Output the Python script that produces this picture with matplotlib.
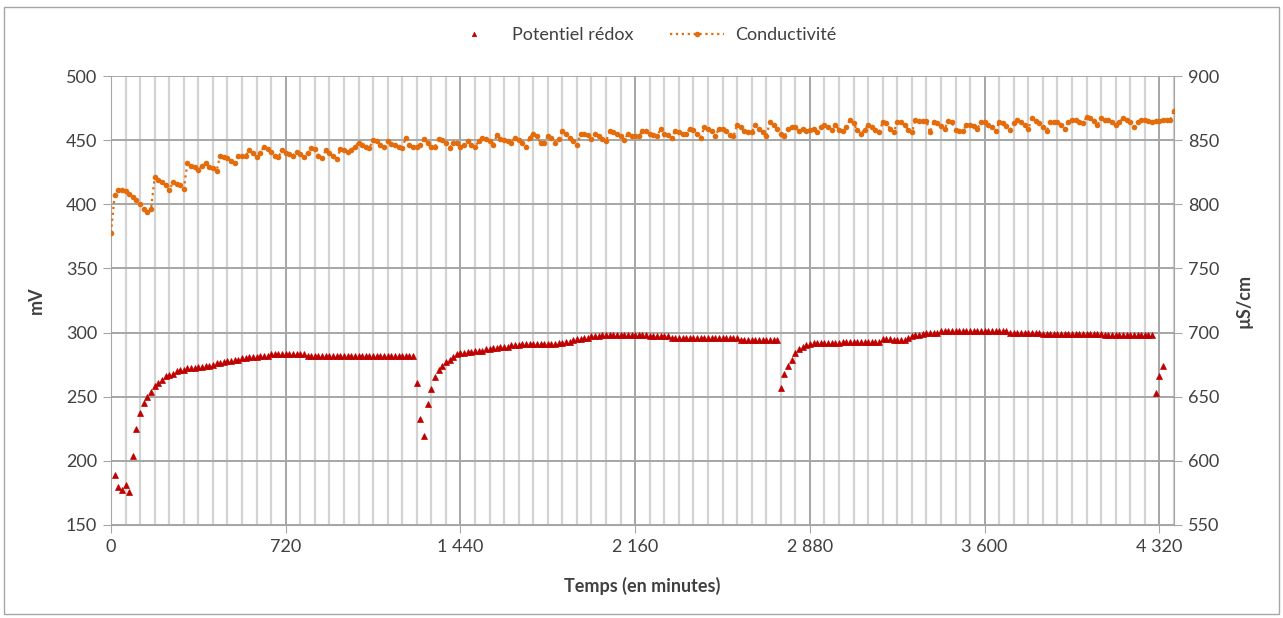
import numpy as np
import matplotlib.pyplot as plt
from matplotlib.patches import Rectangle
from matplotlib.ticker import MultipleLocator

plt.rcParams['font.family'] = ['Lato', 'DejaVu Sans']

# sampling times (minutes), one reading every 15 minutes
temps = np.arange(0, 4381, 15)

# Potentiel rédox (mV), left axis
redox = [
    np.nan, 189, 180, 177, 181, 176, 204, 225, 237, 245, 250, 254,
    258, 261, 263, 266, 267, 268, 270, 271, 271, 272, 272, 272,
    273, 273, 274, 274, 275, 276, 276, 277, 278, 278, 279, 279,
    280, 280, 281, 281, 281, 282, 282, 282, 283, 283, 283, 283,
    283, 283, 283, 283, 283, 283, 282, 282, 282, 282, 282, 282,
    282, 282, 282, 282, 282, 282, 282, 282, 282, 282, 282, 282,
    282, 282, 282, 282, 282, 282, 282, 282, 282, 282, 282, 282,
    261, 233, 219, 244, 256, 265, 271, 274, 277, 279, 281, 283,
    284, 284, 285, 285, 286, 286, 286, 287, 287, 288, 288, 289,
    289, 289, 290, 290, 290, 291, 291, 291, 291, 291, 291, 291,
    291, 291, 291, 292, 292, 293, 293, 294, 295, 295, 296, 296,
    297, 297, 297, 298, 298, 298, 298, 298, 298, 298, 298, 298,
    298, 298, 298, 298, 297, 297, 297, 297, 297, 297, 296, 296,
    296, 296, 296, 296, 296, 296, 296, 296, 296, 296, 296, 296,
    296, 296, 296, 296, 296, 294, 294, 294, 294, 294, 294, 294,
    294, 294, 294, 294, 257, 268, 274, 279, 284, 287, 289, 290,
    291, 292, 292, 292, 292, 292, 292, 292, 292, 293, 293, 293,
    293, 293, 293, 293, 293, 293, 293, 293, 295, 295, 295, 294,
    294, 294, 294, 296, 297, 298, 298, 299, 300, 300, 300, 300,
    301, 301, 301, 301, 301, 301, 301, 301, 301, 301, 301, 301,
    301, 301, 301, 301, 301, 301, 301, 300, 300, 300, 300, 300,
    300, 300, 300, 300, 299, 299, 299, 299, 299, 299, 299, 299,
    299, 299, 299, 299, 299, 299, 299, 299, 299, 298, 298, 298,
    298, 298, 298, 298, 298, 298, 298, 298, 298, 298, 298, 253,
    266, 274, np.nan, np.nan, np.nan,
]

# Conductivité (µS/cm), right axis
conductivite = [
    778, 807, 811, 811, 810, 808, 806, 803, 800, 796, 794, 796,
    821, 819, 817, 815, 811, 817, 816, 815, 812, 832, 830, 829,
    827, 830, 832, 829, 828, 826, 838, 837, 836, 834, 832, 838,
    838, 838, 842, 840, 837, 840, 845, 843, 841, 838, 837, 842,
    840, 839, 838, 841, 839, 837, 840, 844, 843, 838, 836, 842,
    840, 838, 835, 843, 842, 841, 842, 845, 848, 846, 845, 844,
    850, 849, 846, 845, 849, 847, 846, 845, 844, 852, 846, 845,
    845, 846, 851, 848, 845, 845, 851, 850, 848, 844, 848, 848,
    845, 846, 849, 846, 845, 849, 852, 851, 849, 846, 854, 851,
    850, 849, 848, 852, 850, 848, 845, 852, 855, 853, 848, 848,
    853, 852, 848, 851, 857, 855, 852, 849, 846, 855, 855, 854,
    851, 855, 853, 851, 849, 857, 856, 855, 853, 850, 855, 853,
    853, 853, 857, 857, 855, 854, 853, 859, 855, 854, 852, 857,
    856, 855, 855, 859, 858, 855, 852, 860, 859, 857, 853, 859,
    859, 857, 854, 853, 862, 860, 857, 856, 856, 862, 859, 856,
    853, 864, 862, 859, 855, 853, 859, 860, 860, 857, 859, 857,
    858, 859, 856, 860, 862, 860, 858, 862, 858, 857, 860, 866,
    863, 858, 855, 858, 862, 860, 858, 856, 864, 863, 859, 856,
    864, 864, 862, 858, 856, 866, 865, 865, 865, 856, 864, 863,
    861, 859, 865, 864, 858, 857, 857, 862, 862, 861, 859, 864,
    864, 862, 860, 857, 864, 863, 861, 858, 863, 866, 864, 862,
    859, 867, 865, 863, 860, 857, 864, 864, 864, 862, 859, 864,
    866, 866, 864, 863, 868, 867, 865, 862, 867, 866, 866, 864,
    862, 864, 867, 866, 864, 860, 864, 866, 866, 865, 864, 865,
    865, 866, 866, 866, 873,
]

x_ticks = [0, 720, 1440, 2160, 2880, 3600, 4320]
x_labels = ['0', '720', '1 440', '2 160', '2 880', '3 600', '4 320']

red = '#C00000'
orange = '#E46C0A'
grid_major = '#A6A6A6'
grid_minor = '#D3D3D3'

fig = plt.figure(figsize=(12.83, 6.18), dpi=100)
ax = fig.add_axes([0.0865, 0.1505, 0.8285, 0.7265])
ax2 = ax.twinx()

fig.patches.append(Rectangle((0.003, 0.006), 0.994, 0.982, transform=fig.transFigure,
                             fill=False, edgecolor='#A6A6A6', linewidth=1))

ax.plot(temps, redox, linestyle='none', marker='^', markersize=4.6,
        color=red, markeredgewidth=0.5, label='Potentiel rédox', zorder=3)
ax2.plot(temps, conductivite, linestyle=':', linewidth=1.6, marker='o', markersize=4.0,
         color=orange, markeredgewidth=0, label='Conductivité', zorder=3)

ax.set_xlim(0, 4380)
ax.set_ylim(150, 500)
ax2.set_ylim(550, 900)
ax.set_xticks(x_ticks)
ax.set_xticklabels(x_labels)
ax.xaxis.set_minor_locator(MultipleLocator(60))
ax.set_yticks(np.arange(150, 501, 50))
ax2.set_yticks(np.arange(550, 901, 50))

ax.grid(which='minor', axis='x', color=grid_minor, linewidth=1.6)
ax.grid(which='major', axis='x', color=grid_major, linewidth=1.4)
ax.grid(which='major', axis='y', color=grid_major, linewidth=1.4)
ax.set_axisbelow(True)

for a in (ax, ax2):
    for s in a.spines.values():
        s.set_visible(False)
ax.spines['left'].set_visible(True)
ax.spines['left'].set_color(grid_major)
ax.spines['bottom'].set_visible(True)
ax.spines['bottom'].set_color(grid_major)
ax2.spines['right'].set_visible(True)
ax2.spines['right'].set_color(grid_major)

ax.tick_params(axis='x', which='major', length=6, color=grid_major, labelsize=13,
               labelcolor='#404040', pad=4)
ax.tick_params(axis='x', which='minor', length=0)
ax.tick_params(axis='y', length=6, color=grid_major, labelsize=13, labelcolor='#404040', pad=4)
ax2.tick_params(axis='y', length=6, color=grid_major, labelsize=13, labelcolor='#404040', pad=4)

ax.set_xlabel('Temps (en minutes)', fontsize=13, fontweight='bold', color='#404040', labelpad=16)
ax.set_ylabel('mV', fontsize=13, fontweight='bold', color='#404040', labelpad=15)
ax2.set_ylabel('µS/cm', fontsize=13, fontweight='bold', color='#404040', labelpad=12)

h1, l1 = ax.get_legend_handles_labels()
h2, l2 = ax2.get_legend_handles_labels()
leg = fig.legend(h1 + h2, l1 + l2, loc='center', bbox_to_anchor=(0.5, 0.943), ncol=2,
                 frameon=False, fontsize=13, handlelength=3, columnspacing=2.0,
                 handletextpad=0.6)
leg.legend_handles[0].set_markersize(3.2)
for t in leg.get_texts():
    t.set_color('#404040')

fig.savefig('out.png', dpi=100)
